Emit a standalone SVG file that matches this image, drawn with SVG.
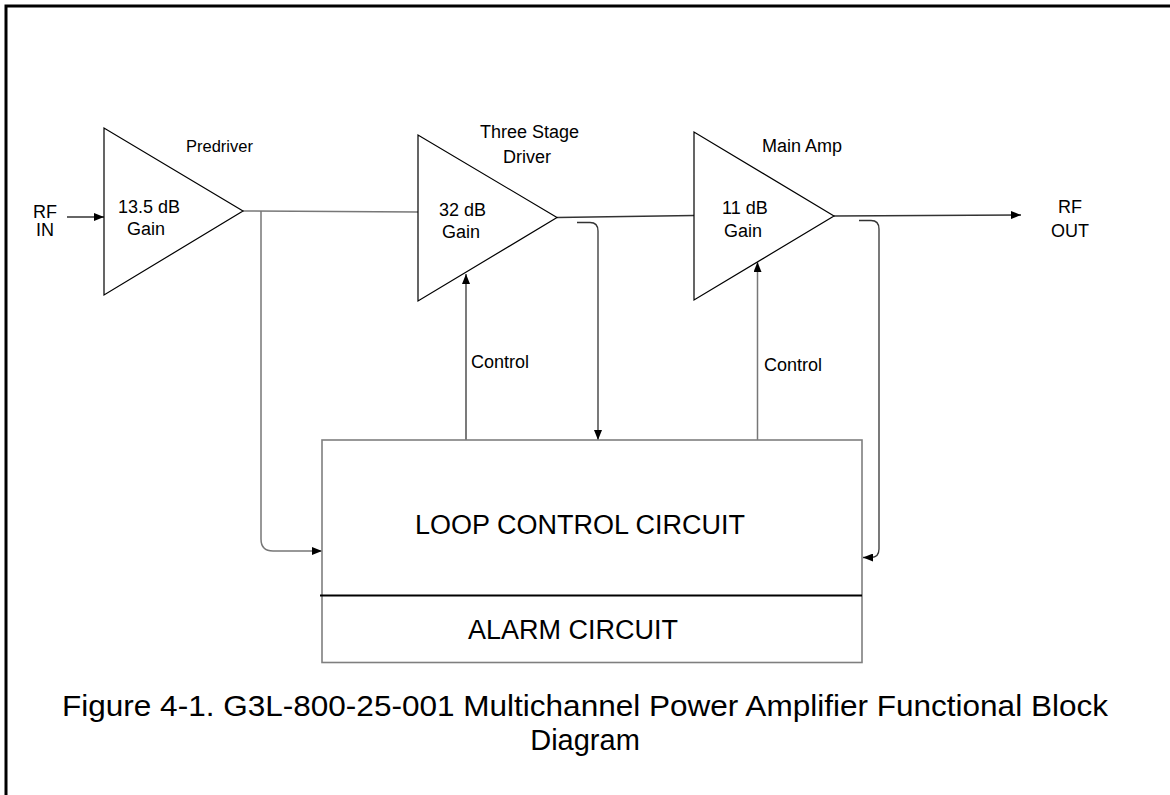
<svg xmlns="http://www.w3.org/2000/svg" width="1170" height="795" viewBox="0 0 1170 795">
<defs>
<marker id="arr" viewBox="0 0 10 8" refX="10" refY="4" markerWidth="10" markerHeight="8" markerUnits="userSpaceOnUse" orient="auto">
<path d="M0,0 L10,4 L0,8 Z" fill="#000"/>
</marker>
</defs>
<style>
text{font-family:"Liberation Sans",Arial,sans-serif;fill:#000;}
.lbl{font-size:18px;}
.big{font-size:27px;}
.tri{fill:#fff;stroke:#000;stroke-width:1.2;}
.box{fill:#fff;stroke:#7f7f7f;stroke-width:1.6;}
.ln{fill:none;stroke:#333;stroke-width:1.3;}
.gl{fill:none;stroke:#777;stroke-width:1.5;}
</style>
<rect x="0" y="0" width="1170" height="795" fill="#fff"/>
<path d="M6,800 L6,6 L1175,6" fill="none" stroke="#000" stroke-width="3"/>

<g id="connectors">
<line class="ln" x1="67" y1="217" x2="104" y2="217" marker-end="url(#arr)"/>
<line class="gl" x1="243" y1="211" x2="418" y2="212"/>
<path class="gl" d="M261,211 L261,539 Q261,551 273,551 L322,551" marker-end="url(#arr)"/>
<line class="ln" x1="557" y1="217.5" x2="694" y2="215.5"/>
<path class="ln" d="M577,222.5 L590,222.5 Q598,222.5 598,231 L598,440" marker-end="url(#arr)"/>
<line class="ln" x1="466" y1="440" x2="466" y2="274" marker-end="url(#arr)"/>
<line class="ln" x1="834" y1="216" x2="1021" y2="215" marker-end="url(#arr)"/>
<path class="ln" d="M859,220.5 L871,220.5 Q879,220.5 879,229 L879,549 Q879,557.5 871,557.5 L863,557.5" marker-end="url(#arr)"/>
<line class="gl" x1="757.5" y1="440" x2="757.5" y2="262" marker-end="url(#arr)"/>
</g>

<g id="rf-in">
<text class="lbl" x="33" y="218">RF</text>
<text class="lbl" x="36" y="236">IN</text>
</g>

<g id="predriver">
<polygon class="tri" points="104,128 104,295 243,211"/>
<text x="186" y="152" style="font-size:16.5px">Predriver</text>
<text class="lbl" x="118" y="213">13.5 dB</text>
<text class="lbl" x="127" y="235">Gain</text>
</g>

<g id="driver">
<polygon class="tri" points="418,135 418,301 557,217.5"/>
<text class="lbl" x="480" y="138">Three Stage</text>
<text class="lbl" x="503" y="162.5">Driver</text>
<text class="lbl" x="439" y="215.5">32 dB</text>
<text class="lbl" x="442" y="238">Gain</text>
</g>

<g id="main-amp">
<polygon class="tri" points="694,132 694,300 834,216"/>
<text class="lbl" x="762" y="151.5">Main Amp</text>
<text class="lbl" x="722" y="214">11 dB</text>
<text class="lbl" x="724" y="236.5">Gain</text>
</g>

<g id="rf-out">
<text class="lbl" x="1058" y="213">RF</text>
<text class="lbl" x="1051" y="236.5">OUT</text>
</g>

<g id="control-labels">
<text class="lbl" x="471" y="368">Control</text>
<text class="lbl" x="764" y="370.5">Control</text>
</g>

<g id="loop-control">
<rect class="box" x="322" y="440" width="540" height="222.5"/>
<line x1="320" y1="595.5" x2="862" y2="595.5" stroke="#000" stroke-width="2"/>
<text class="big" x="415" y="534">LOOP CONTROL CIRCUIT</text>
</g>

<g id="alarm">
<text class="big" x="468" y="639">ALARM CIRCUIT</text>
</g>

<g id="caption">
<text x="585" y="716" text-anchor="middle" style="font-size:29px" textLength="1046" lengthAdjust="spacingAndGlyphs">Figure 4-1. G3L-800-25-001 Multichannel Power Amplifier Functional Block</text>
<text x="585" y="750" text-anchor="middle" style="font-size:29px">Diagram</text>
</g>
</svg>
